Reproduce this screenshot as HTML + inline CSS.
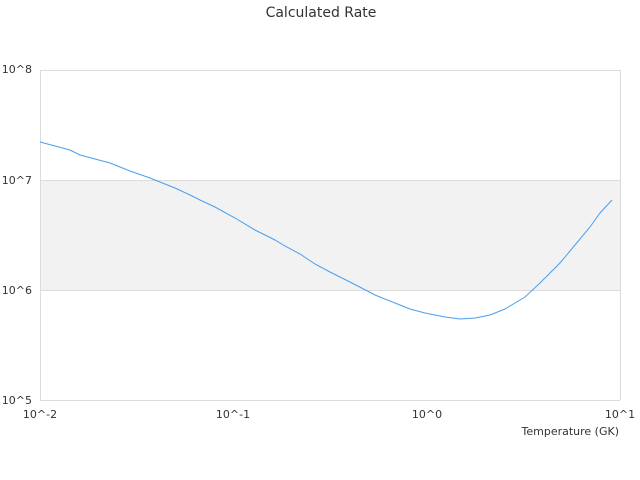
<!DOCTYPE html>
<html><head><meta charset="utf-8"><style>
html,body{margin:0;padding:0;background:#fff;width:640px;height:480px;overflow:hidden}
svg text{font-family:"DejaVu Sans","Liberation Sans",sans-serif;font-size:11px;fill:#333}
</style></head><body>
<svg width="640" height="480" viewBox="0 0 640 480" xmlns="http://www.w3.org/2000/svg">
<rect x="40.5" y="180.5" width="580" height="110" fill="#f2f2f2"/>
<g stroke="#dcdcdc" stroke-width="1" fill="none">
<line x1="40" y1="70.5" x2="620" y2="70.5"/>
<line x1="40" y1="180.5" x2="620" y2="180.5"/>
<line x1="40" y1="290.5" x2="620" y2="290.5"/>
<line x1="40" y1="400.5" x2="620" y2="400.5"/>
<line x1="40.5" y1="70" x2="40.5" y2="400"/>
<line x1="620.5" y1="70" x2="620.5" y2="400"/>
</g>
<polyline fill="none" stroke="#4a9ff0" stroke-width="1" points="40,142 55,146 70,150 80,155 95,159 110,163 120,167 130,171 150,178 175,188 190,195 200,200 215,207 235,218 255,230 275,240 285,246 300,254 315,264 330,272 350,282 375,295 400,305 410,309 425,313 445,317 460,319 475,318 490,315 505,309 515,303 525,297 540,283 560,263 575,245 590,227 600,213 612,200"/>
<text x="321" y="17" text-anchor="middle" style="font-size:14px">Calculated Rate</text>
<text x="32" y="73" text-anchor="end">10^8</text>
<text x="32" y="184" text-anchor="end">10^7</text>
<text x="32" y="294" text-anchor="end">10^6</text>
<text x="32" y="404" text-anchor="end">10^5</text>
<text x="40" y="418" text-anchor="middle">10^-2</text>
<text x="233" y="418" text-anchor="middle">10^-1</text>
<text x="427" y="418" text-anchor="middle">10^0</text>
<text x="620" y="418" text-anchor="middle">10^1</text>
<text x="619" y="435" text-anchor="end">Temperature (GK)</text>
</svg>
</body></html>
